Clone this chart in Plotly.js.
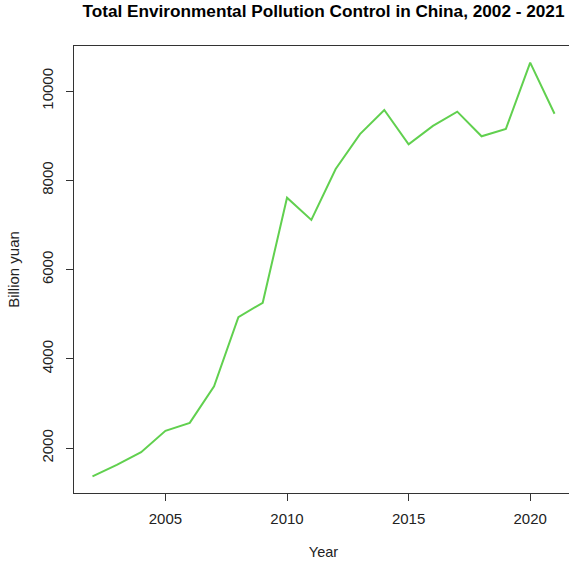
<!DOCTYPE html>
<html>
<head>
<meta charset="utf-8">
<script src="https://cdn.plot.ly/plotly-3.0.1.min.js"></script>
<style>
html, body { margin: 0; padding: 0; overflow: hidden; background: #fff; }
#chart { width: 590px; height: 566px; }
</style>
</head>
<body>
<div id="chart"></div>
<script>
const years = [2002, 2003, 2004, 2005, 2006, 2007, 2008, 2009, 2010, 2011,
               2012, 2013, 2014, 2015, 2016, 2017, 2018, 2019, 2020, 2021];
const investment = [1367, 1628, 1910, 2388, 2566, 3387, 4937, 5258, 7612, 7114,
                    8254, 9037, 9576, 8806, 9220, 9539, 8988, 9152, 10639, 9492];
const xTicks = [2005, 2010, 2015, 2020];
const yTicks = [2000, 4000, 6000, 8000, 10000];

const font = "Liberation Sans, Arial, sans-serif";
const trace = {
  x: years, y: investment, type: "scatter", mode: "lines",
  line: { color: "#61D04F", width: 2 }, hoverinfo: "skip"
};
const layout = {
  width: 590, height: 566,
  margin: { l: 74, r: 17, t: 46, b: 73 },
  paper_bgcolor: "#fff", plot_bgcolor: "#fff",
  showlegend: false,
  font: { family: font, size: 15, color: "#222" },
  title: { text: "Total Environmental Pollution Control in China, 2002 - 2021",
           font: { family: font, size: 17.2, color: "#000", weight: "bold" },
           x: 0.5, xref: "paper", y: 0.981, yref: "container", yanchor: "middle" },
  xaxis: {
    range: [2001.24, 2021.76], tickvals: xTicks, ticktext: xTicks.map(String),
    ticks: "outside", ticklen: 7, tickcolor: "#333", tickwidth: 1,
    ticklabelstandoff: 5,
    showline: true, linecolor: "#333", linewidth: 1, mirror: true,
    showgrid: false, zeroline: false, automargin: false,
    tickfont: { size: 15, color: "#222" },
    title: { text: "Year", font: { size: 14.5, color: "#222" }, standoff: 20 }
  },
  yaxis: {
    range: [996, 11010], tickvals: yTicks, ticktext: yTicks.map(String),
    ticks: "outside", ticklen: 7, tickcolor: "#333", tickwidth: 1, tickangle: -90,
    ticklabelstandoff: 7,
    showline: true, linecolor: "#333", linewidth: 1, mirror: true,
    showgrid: false, zeroline: false, automargin: false,
    tickfont: { size: 15, color: "#222" },
    title: { text: "Billion yuan", font: { size: 15, color: "#222" }, standoff: 15 }
  }
};
Plotly.newPlot("chart", [trace], layout, { staticPlot: true, displayModeBar: false });
</script>
</body>
</html>
